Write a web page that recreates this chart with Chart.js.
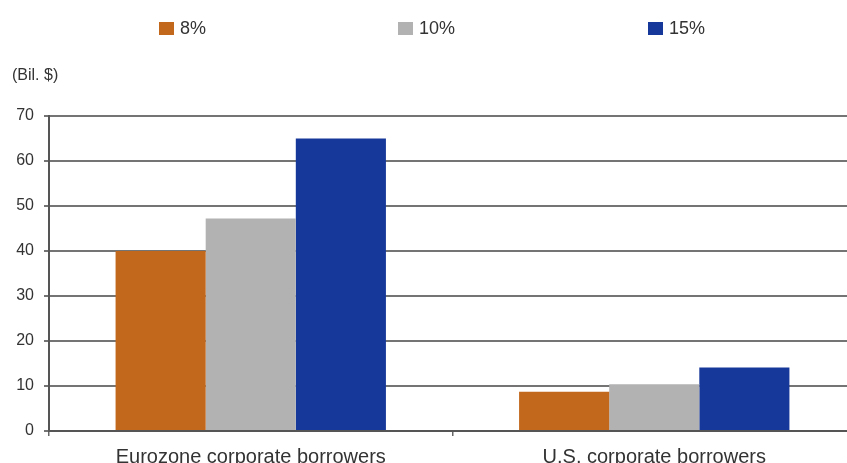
<!DOCTYPE html>
<html>
<head>
<meta charset="utf-8">
<script src="https://cdn.jsdelivr.net/npm/chart.js@4.4.1/dist/chart.umd.min.js"></script>
<style>
    html, body { margin: 0; padding: 0; background: #fff; overflow: hidden; }
    #wrap { width: 856px; height: 463px; }
</style>
</head>
<body>
<div id="wrap"><canvas id="chart" width="856" height="463"></canvas></div>
<script>
// data
const categories = ['Eurozone corporate borrowers', 'U.S. corporate borrowers'];
const seriesNames = ['8%', '10%', '15%'];
const rate8 = [40, 8.7];
const rate10 = [47.2, 10.4];
const rate15 = [65, 14.1];
const yTicks = [0, 10, 20, 30, 40, 50, 60, 70];
const unitLabel = '(Bil. $)';

const colors = ['#C2681D', '#B2B2B2', '#16389A'];
const textColor = '#333';
const font = 'Arial, "Liberation Sans", sans-serif';

/**
 * Legend + unit label drawn on the canvas
 */
const headerPlugin = {
    id: 'header',
    afterDraw(chart) {
        const ctx = chart.ctx;
        const boxX = [159, 398, 648];
        ctx.save();
        ctx.font = '18px ' + font;
        ctx.textBaseline = 'middle';
        chart.data.datasets.forEach((ds, i) => {
            ctx.fillStyle = ds.backgroundColor;
            ctx.fillRect(boxX[i], 22, 15, 13);
            ctx.fillStyle = textColor;
            ctx.fillText(ds.label, boxX[i] + 21, 29);
        });
        ctx.font = '16px ' + font;
        ctx.fillText(unitLabel, 12, 76);
        ctx.restore();
    }
};

new Chart(document.getElementById('chart'), {
    type: 'bar',
    data: {
        labels: categories,
        datasets: [
            { label: seriesNames[0], data: rate8, backgroundColor: colors[0] },
            { label: seriesNames[1], data: rate10, backgroundColor: colors[1] },
            { label: seriesNames[2], data: rate15, backgroundColor: colors[2] }
        ]
    },
    options: {
        responsive: false,
        animation: false,
        layout: {
            padding: { top: 116, left: 0, right: 0, bottom: 0 }
        },
        datasets: {
            bar: {
                barPercentage: 1,
                categoryPercentage: 0.67
            }
        },
        plugins: {
            legend: { display: false },
            title: { display: false },
            tooltip: { enabled: false }
        },
        scales: {
            x: {
                offset: true,
                grid: {
                    offset: true,
                    drawOnChartArea: false,
                    drawTicks: true,
                    tickLength: 5,
                    color: '#666',
                    lineWidth: 1.5
                },
                border: { color: '#555', width: 2 },
                ticks: {
                    color: textColor,
                    font: { size: 20, family: font },
                    padding: 9,
                    maxRotation: 0
                },
                afterFit: s => { s.height = 32; }
            },
            y: {
                min: 0,
                max: 70,
                afterBuildTicks: s => { s.ticks = yTicks.map(v => ({ value: v })); },
                grid: {
                    color: '#747474',
                    lineWidth: 2,
                    drawTicks: true,
                    tickLength: 5
                },
                border: { color: '#555', width: 2 },
                ticks: {
                    color: textColor,
                    font: { size: 16, family: font },
                    padding: 10
                },
                afterFit: s => { s.width = 49; }
            }
        }
    },
    plugins: [headerPlugin]
});
</script>
</body>
</html>
